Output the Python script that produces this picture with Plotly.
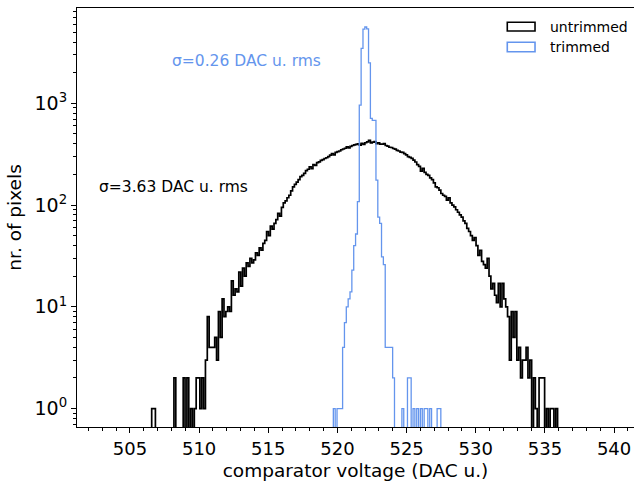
import plotly.graph_objects as go

# ---------------- data ----------------
BIN_START = 506.57      # left edge of first histogram bin (DAC u.)
BIN_WIDTH = 0.134       # histogram bin width (DAC u.)

untrimmed_counts = [
    1, 1, 0, 0, 0, 0, 0, 0, 0, 0, 0, 0,
    2, 0, 0, 0, 0, 2, 0, 2, 0, 1, 0, 1,
    2, 2, 1, 2, 1, 3, 8, 4, 4, 4, 5, 3,
    9, 5, 12, 8, 9, 10, 9, 18, 13, 15, 14, 22,
    16, 24, 20, 27, 25, 30, 27, 29, 34, 32, 38, 36,
    42, 45, 55, 50, 62, 58, 66, 72, 83, 78, 95, 105,
    110, 118, 125, 138, 151, 160, 168, 178, 190, 196, 205, 218,
    225, 238, 228, 250, 245, 262, 266, 275, 280, 287, 292, 300,
    310, 321, 312, 330, 335, 340, 350, 356, 362, 373, 365, 378,
    385, 390, 395, 400, 388, 405, 395, 410, 418, 433, 408, 415,
    420, 402, 410, 398, 396, 402, 385, 380, 370, 368, 360, 355,
    345, 340, 332, 330, 321, 312, 300, 295, 288, 277, 265, 250,
    240, 215, 230, 210, 200, 196, 185, 178, 165, 151, 148, 140,
    130, 125, 122, 112, 118, 105, 100, 96, 90, 85, 80, 76,
    70, 66, 59, 55, 50, 45, 48, 40, 32, 36, 28, 26,
    24, 30, 20, 15, 17, 13, 11, 17, 10, 17, 12, 10,
    8, 3, 9, 5, 9, 3, 4, 2, 3, 3, 4, 2,
    3, 0, 2, 1, 0, 2, 2, 2, 0, 1, 0, 1,
    1, 0, 1,
]

TRIMMED_FIRST_BIN = 98  # index of the first trimmed bin on the common grid
trimmed_counts = [
    1, 0, 1, 1, 1, 4, 7, 10, 12, 14,
    23, 40, 52, 108, 960, 3470, 5360, 5630, 5400, 2500,
    713, 680, 680, 176, 76, 66, 31, 26, 4, 4,
    4, 4, 2, 0, 0, 0, 0, 1, 0, 0,
    2, 2, 0, 1, 0, 1, 0, 1, 0, 1,
    1, 0, 1, 0, 0, 0, 1, 1,
]

series_names = ["untrimmed", "trimmed"]
series_colors = ["#000000", "#6495ED"]
sigma_labels = ["σ=3.63 DAC u. rms", "σ=0.26 DAC u. rms"]

x_major_ticks = [505, 510, 515, 520, 525, 530, 535, 540]
y_major_ticks = [1, 10, 100, 1000]
y_tick_text = ["10<sup>0</sup>", "10<sup>1</sup>", "10<sup>2</sup>", "10<sup>3</sup>"]

# ---------------- helpers ----------------
FLOOR = 1e-3  # stand-in for empty bins on the log axis (drawn below the axis)


def step_outline(first_bin, counts):
    edges = [BIN_START + (first_bin + i) * BIN_WIDTH for i in range(len(counts) + 1)]
    ys = [c if c > 0 else FLOOR for c in counts]
    xs = [edges[0]] + edges[:-1] + [edges[-1], edges[-1]]
    yv = [FLOOR] + ys + [ys[-1], FLOOR]
    return xs, yv


fig = go.Figure()
for first, counts, name, color, width in [
    (0, untrimmed_counts, series_names[0], series_colors[0], 1.7),
    (TRIMMED_FIRST_BIN, trimmed_counts, series_names[1], series_colors[1], 1.3),
]:
    xs, ys = step_outline(first, counts)
    fig.add_trace(go.Scatter(x=xs, y=ys, mode="lines", name=name,
                             line=dict(color=color, width=width, shape="hv"),
                             hoverinfo="skip"))

x_minor = [v for v in range(502, 542) if v % 5 != 0]
y_minor = [m * 10 ** e for e in range(-1, 4) for m in range(2, 10)
           if 0.66 <= m * 10 ** e <= 8600]

fig.update_layout(
    width=634, height=482,
    margin=dict(l=77, r=0, t=8, b=55),
    plot_bgcolor="white", paper_bgcolor="white",
    font=dict(family="DejaVu Sans", size=18, color="black"),
    showlegend=False,
    xaxis=dict(
        range=[501.17, 541.44], tickmode="array", tickvals=x_major_ticks,
        ticks="outside", ticklen=5, tickwidth=1, tickcolor="black",
        showline=True, linecolor="black", linewidth=1, mirror=True,
        showgrid=False, zeroline=False,
        tickfont=dict(size=18),
        title=dict(text="comparator voltage (DAC u.)", font=dict(size=18.5), standoff=6),
        minor=dict(tickmode="array", tickvals=x_minor, ticks="outside",
                   ticklen=3, tickwidth=1, tickcolor="black", showgrid=False),
    ),
    yaxis=dict(
        type="log", range=[-0.181, 3.937], tickmode="array",
        tickvals=y_major_ticks, ticktext=y_tick_text,
        ticks="outside", ticklen=5, tickwidth=1, tickcolor="black",
        showline=True, linecolor="black", linewidth=1, mirror=False,
        showgrid=False, zeroline=False,
        tickfont=dict(size=19),
        title=dict(text="nr. of pixels", font=dict(size=18.5), standoff=8),
        minor=dict(tickmode="array", tickvals=y_minor, ticks="outside",
                   ticklen=3, tickwidth=1, tickcolor="black", showgrid=False),
    ),
)

# sigma annotations
fig.add_annotation(xref="paper", yref="paper", x=0.0354, y=0.5735,
                   text=sigma_labels[0], showarrow=False, xanchor="left", yanchor="middle",
                   font=dict(size=15.5, color=series_colors[0]))
fig.add_annotation(xref="paper", yref="paper", x=0.167, y=0.8735,
                   text=sigma_labels[1], showarrow=False, xanchor="left", yanchor="middle",
                   font=dict(size=15.5, color=series_colors[1]))

# legend (matplotlib-style open patches)
legend_rows = [(0.9554, 0.945, 0.9659), (0.9069, 0.8957, 0.9181)]
for (ty, y0, y1), name, color in zip(legend_rows, series_names, series_colors):
    fig.add_shape(type="rect", xref="paper", yref="paper",
                  x0=0.7725, x1=0.8223, y0=y0, y1=y1,
                  line=dict(color=color, width=1.6), fillcolor="rgba(0,0,0,0)")
    fig.add_annotation(xref="paper", yref="paper", x=0.8461, y=ty, text=name,
                       showarrow=False, xanchor="left", yanchor="middle",
                       font=dict(size=14, color="black"))

fig.write_html("out.html")
